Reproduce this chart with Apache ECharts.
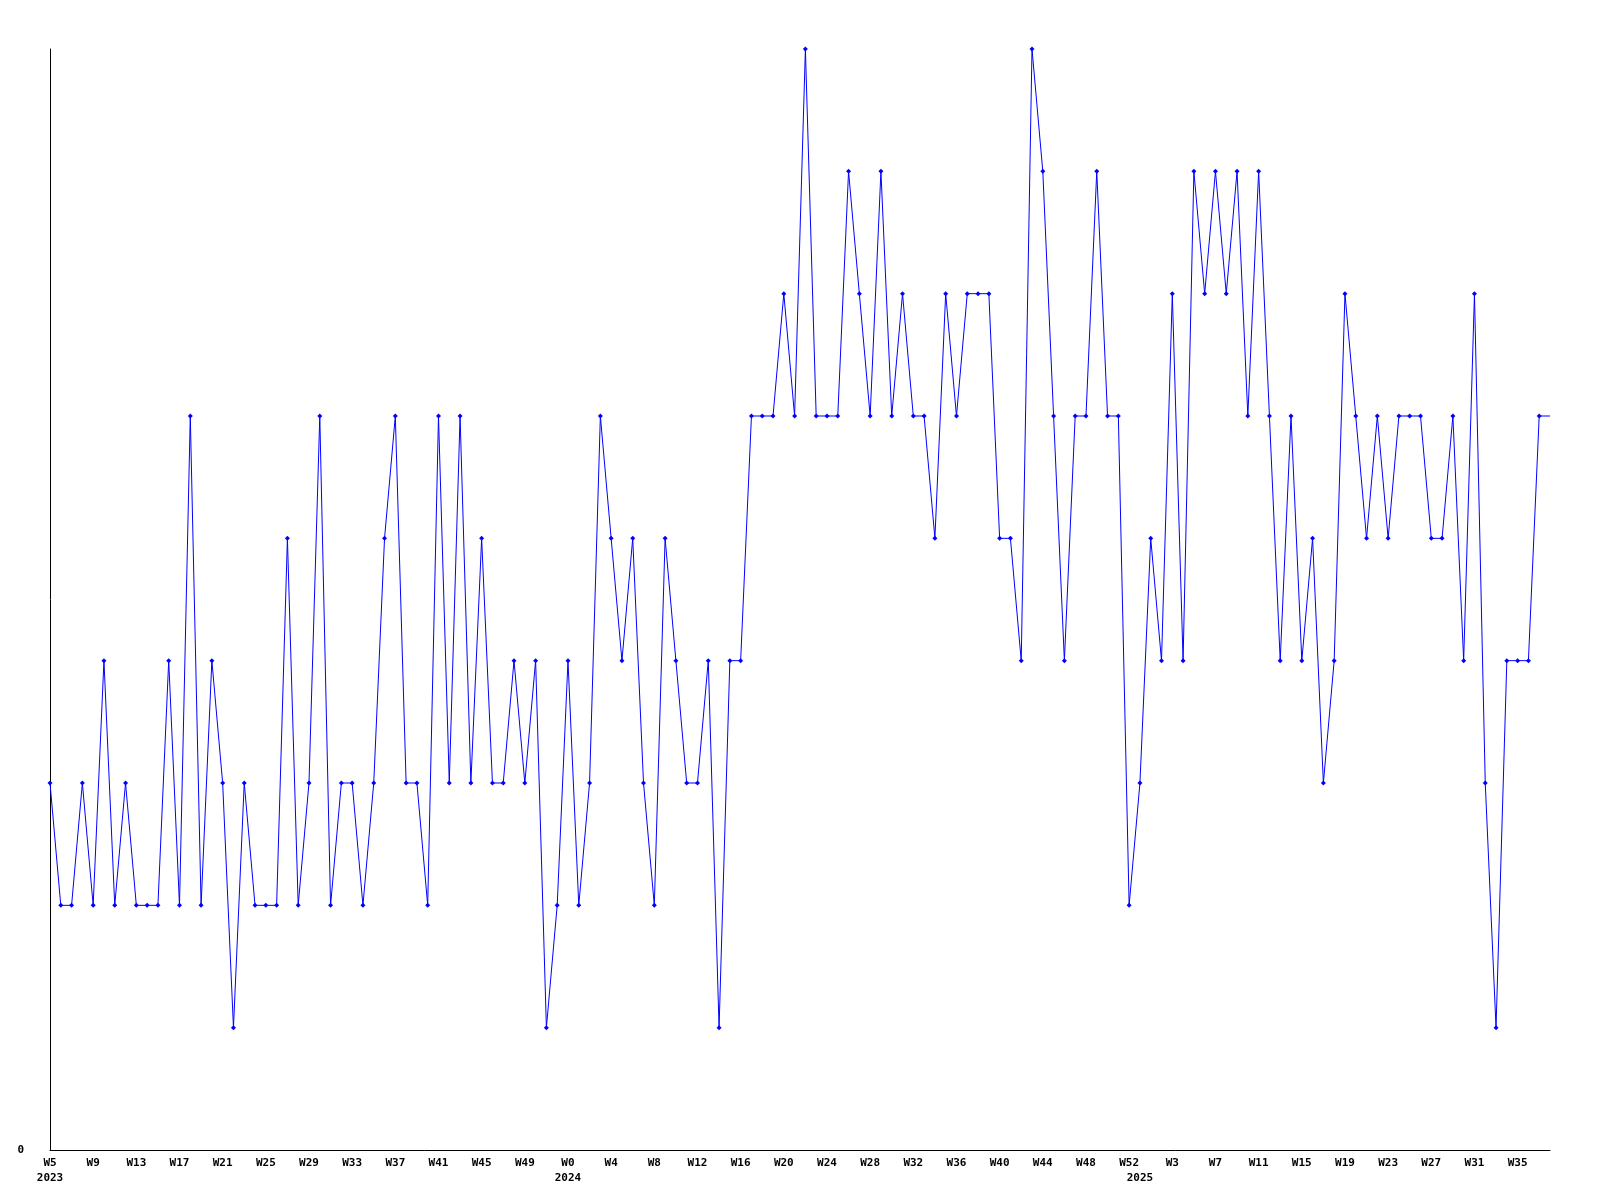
<!DOCTYPE html>
<html>
<head>
<meta charset="utf-8">
<script src="https://cdn.jsdelivr.net/npm/echarts@6/dist/echarts.min.js"></script>
<style>
  html, body { margin: 0; background: #fff; }
  #chart { width: 1600px; height: 1200px; }
</style>
</head>
<body>
<div id="chart"></div>
<script>
// weeks covered per year
const years = [2023, 2024, 2025];
const firstWeeks = [5, 0, 0];
const lastWeeks = [52, 52, 38];

// weekly values, one array per year
const values2023 = [3, 2, 2, 3, 2, 4, 2, 3, 2, 2, 2, 4, 2, 6, 2, 4, 3, 1, 3, 2, 2, 2, 5, 2, 3, 6, 2, 3, 3, 2, 3, 5, 6, 3, 3, 2, 6, 3, 6, 3, 5, 3, 3, 4, 3, 4, 1, 2];
const values2024 = [4, 2, 3, 6, 5, 4, 5, 3, 2, 5, 4, 3, 3, 4, 1, 4, 4, 6, 6, 6, 7, 6, 9, 6, 6, 6, 8, 7, 6, 8, 6, 7, 6, 6, 5, 7, 6, 7, 7, 7, 5, 5, 4, 9, 8, 6, 4, 6, 6, 8, 6, 6, 2];
const values2025 = [3, 5, 4, 7, 4, 8, 7, 8, 7, 8, 6, 8, 6, 4, 6, 4, 5, 3, 4, 7, 6, 5, 6, 5, 6, 6, 6, 5, 5, 6, 4, 7, 3, 1, 4, 4, 4, 6, 6];

const yMin = 0;
const yMax = 9;

// build categories like "2023|5"
const categories = [];
years.forEach((y, i) => {
  for (let w = firstWeeks[i]; w <= lastWeeks[i]; w++) categories.push(y + '|' + w);
});
const values = [...values2023, ...values2024, ...values2025];
const lastIdx = values.length - 1;

const chart = echarts.init(document.getElementById('chart'));

const labelFont = {
  fontFamily: 'DejaVu Sans Mono',
  fontWeight: 'bold',
  fontSize: 11,
  color: '#000'
};

chart.setOption({
  animation: false,
  backgroundColor: '#fff',
  grid: { left: 50, right: 50, top: 49, bottom: 50, containLabel: false },
  xAxis: {
    type: 'category',
    data: categories,
    boundaryGap: false,
    axisLine: { lineStyle: { color: '#000', width: 1 } },
    axisTick: { show: false },
    splitLine: { show: false },
    axisLabel: {
      ...labelFont,
      margin: 6,
      lineHeight: 15,
      interval: (idx, val) => {
        const [y, w] = val.split('|');
        const yi = years.indexOf(+y);
        return idx % 4 === 0 || +w === firstWeeks[yi];
      },
      formatter: (val, idx) => {
        const [y, w] = val.split('|');
        const yi = years.indexOf(+y);
        const top = idx % 4 === 0 ? 'W' + w : '';
        return +w === firstWeeks[yi] ? top + '\n' + y : top;
      }
    }
  },
  yAxis: {
    type: 'value',
    min: yMin,
    max: yMax,
    interval: 9,
    axisLine: { show: true, lineStyle: { color: '#000', width: 1 } },
    axisTick: { show: false },
    splitLine: { show: false },
    axisLabel: {
      ...labelFont,
      margin: 26,
      formatter: v => (v === 0 ? '0' : '')
    }
  },
  series: [{
    type: 'line',
    data: values,
    symbol: 'diamond',
    symbolSize: (v, p) => (p.dataIndex === lastIdx ? 0 : 5),
    showAllSymbol: true,
    lineStyle: { color: '#0000ff', width: 1 },
    itemStyle: { color: '#0000ff' },
    emphasis: { disabled: true }
  }]
});
</script>
</body>
</html>
